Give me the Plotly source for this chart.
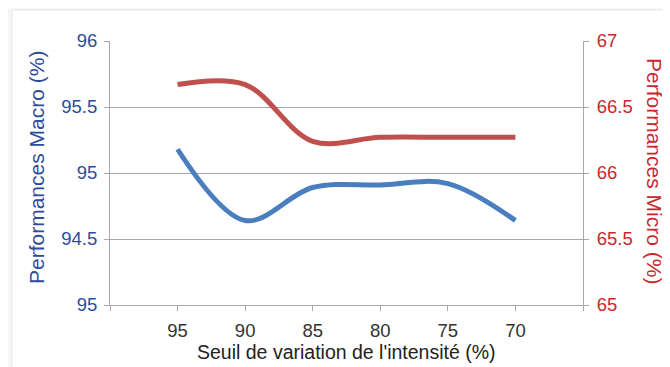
import plotly.graph_objects as go

categories = ["95", "90", "85", "80", "75", "70"]
macro = [95.18, 94.64, 94.89, 94.91, 94.92, 94.64]
micro = [66.67, 66.67, 66.24, 66.27, 66.27, 66.27]
macro_tickvals = [94, 94.5, 95, 95.5, 96]
macro_ticktext = ["95", "94.5", "95", "95.5", "96"]
micro_tickvals = [65, 65.5, 66, 66.5, 67]
micro_ticktext = ["65", "65.5", "66", "66.5", "67"]

xpos = list(range(len(categories)))

BLUE = "#4A7EBF"
RED = "#C0504D"
BLUE_TXT = "#2E4C9C"
RED_TXT = "#C8282D"
GRID = "#A8A8A8"
FONT = "Liberation Sans"
TICK_SIZE = 18.5

fig = go.Figure()
fig.add_trace(go.Scatter(x=xpos, y=macro, mode="lines", yaxis="y",
                         line=dict(color=BLUE, width=5, shape="spline", smoothing=1.0),
                         showlegend=False))
fig.add_trace(go.Scatter(x=xpos, y=micro, mode="lines", yaxis="y2",
                         line=dict(color=RED, width=5, shape="spline", smoothing=1.0),
                         showlegend=False))

OFF = 8  # page body margin offset
W, H = 670, 367
# target plot area in screenshot pixels: x 110..583, y 41..305
L = 110 - OFF
T = 41 - OFF
R = W - (583 - OFF)
B = H - (305 - OFF)
pw, ph = W - L - R, H - T - B


def px2x(px):
    return (px - OFF - L) / pw


def py2y(py):
    return (H - B - (py - OFF)) / ph


fig.update_layout(
    width=W, height=H,
    margin=dict(l=L, r=R, t=T, b=B, autoexpand=False),
    paper_bgcolor="#F6F6F6",
    plot_bgcolor="rgba(0,0,0,0)",
    font=dict(family=FONT, size=17),
    xaxis=dict(
        range=[-1, len(categories)],
        tickvals=[-1] + xpos + [len(categories)],
        ticktext=[""] + categories + [""],
        showgrid=False, zeroline=False,
        showline=True, linecolor=GRID, linewidth=1,
        ticks="outside", ticklen=5, tickcolor=GRID,
        ticklabelstandoff=4,
        tickfont=dict(color="#333333", size=TICK_SIZE),
    ),
    yaxis=dict(
        range=[94, 96],
        tickvals=macro_tickvals, ticktext=macro_ticktext,
        showgrid=True, gridcolor=GRID, gridwidth=1, zeroline=False,
        showline=True, linecolor=GRID, linewidth=1,
        ticks="outside", ticklen=5, tickcolor=GRID,
        ticklabelstandoff=3,
        tickfont=dict(color=BLUE_TXT, size=TICK_SIZE),
    ),
    yaxis2=dict(
        range=[65, 67], overlaying="y", side="right",
        tickvals=micro_tickvals, ticktext=micro_ticktext,
        showgrid=False, zeroline=False,
        showline=True, linecolor=GRID, linewidth=1,
        ticks="outside", ticklen=5, tickcolor=GRID,
        ticklabelstandoff=4,
        tickfont=dict(color=RED_TXT, size=TICK_SIZE),
    ),
    shapes=[dict(type="rect", xref="paper", yref="paper", layer="below",
                 x0=px2x(12), x1=px2x(W + 20), y0=py2y(H + 20), y1=py2y(10),
                 fillcolor="white", line=dict(color="#E6E6E6", width=1))],
    annotations=[
        dict(text="Performances Macro (%)", xref="paper", yref="paper",
             x=px2x(36), y=py2y(168), xanchor="center", yanchor="middle",
             textangle=-90, showarrow=False,
             font=dict(color=BLUE_TXT, size=21)),
        dict(text="Performances Micro (%)", xref="paper", yref="paper",
             x=px2x(655), y=py2y(171), xanchor="center", yanchor="middle",
             textangle=90, showarrow=False,
             font=dict(color=RED_TXT, size=21)),
        dict(text="Seuil de variation de l'intensité (%)", xref="paper", yref="paper",
             x=0.5, y=py2y(352), xanchor="center", yanchor="middle",
             showarrow=False,
             font=dict(color="#222222", size=19.5)),
    ],
)

fig.write_html("out.html")
